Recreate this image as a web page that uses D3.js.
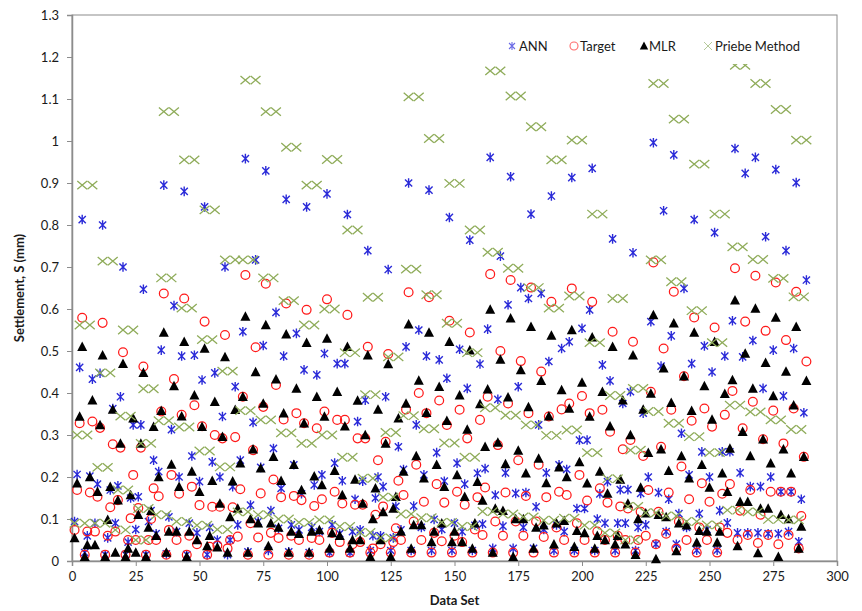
<!DOCTYPE html>
<html>
<head>
<meta charset="utf-8">
<script src="https://cdn.jsdelivr.net/npm/d3@7"></script>
<style>
  body { margin: 0; background: #fff; }
  svg { display: block; font-family: Lato, "Open Sans", "Liberation Sans", sans-serif; }
</style>
</head>
<body>
<svg id="chart" width="862" height="611"></svg>
<script>
// Axis ticks
const dataSetTicks = [0, 25, 50, 75, 100, 125, 150, 175, 200, 225, 250, 275, 300];
const settlementTicks = [0, 0.1, 0.2, 0.3, 0.4, 0.5, 0.6, 0.7, 0.8, 0.9, 1.0, 1.1, 1.2, 1.3];
const settlementTickLabels = ["0", "0.1", "0.2", "0.3", "0.4", "0.5", "0.6", "0.7", "0.8", "0.9", "1", "1.1", "1.2", "1.3"];
const seriesNames = ["ANN", "Target", "MLR", "Priebe Method"];

// Settlement (mm) for data sets 1..288, eight data sets per row
const annValues = [
  0.094, 0.206, 0.461, 0.813, 0.020, 0.060, 0.202, 0.433,
  0.090, 0.183, 0.447, 0.800, 0.015, 0.055, 0.169, 0.363,
  0.090, 0.179, 0.391, 0.700, 0.015, 0.045, 0.150, 0.324,
  0.075, 0.153, 0.324, 0.647, 0.015, 0.094, 0.120, 0.240,
  0.065, 0.213, 0.502, 0.895, 0.017, 0.105, 0.313, 0.608,
  0.070, 0.200, 0.488, 0.880, 0.015, 0.090, 0.250, 0.490,
  0.067, 0.189, 0.431, 0.843, 0.015, 0.080, 0.236, 0.448,
  0.050, 0.200, 0.344, 0.700, 0.015, 0.050, 0.177, 0.415,
  0.086, 0.240, 0.546, 0.958, 0.022, 0.133, 0.330, 0.717,
  0.094, 0.223, 0.513, 0.929, 0.025, 0.120, 0.268, 0.592,
  0.078, 0.173, 0.488, 0.861, 0.022, 0.086, 0.229, 0.542,
  0.074, 0.160, 0.455, 0.843, 0.020, 0.080, 0.181, 0.443,
  0.070, 0.205, 0.494, 0.874, 0.020, 0.086, 0.233, 0.470,
  0.065, 0.191, 0.470, 0.825, 0.020, 0.070, 0.147, 0.332,
  0.074, 0.190, 0.383, 0.739, 0.025, 0.060, 0.150, 0.200,
  0.060, 0.177, 0.391, 0.694, 0.025, 0.055, 0.130, 0.272,
  0.074, 0.218, 0.510, 0.900, 0.025, 0.131, 0.324, 0.550,
  0.080, 0.205, 0.488, 0.883, 0.025, 0.099, 0.258, 0.479,
  0.075, 0.190, 0.435, 0.818, 0.025, 0.090, 0.233, 0.504,
  0.070, 0.183, 0.411, 0.764, 0.025, 0.085, 0.209, 0.469,
  0.088, 0.220, 0.552, 0.961, 0.030, 0.157, 0.385, 0.726,
  0.083, 0.210, 0.610, 0.915, 0.030, 0.161, 0.415, 0.651,
  0.080, 0.163, 0.625, 0.826, 0.030, 0.129, 0.324, 0.637,
  0.075, 0.210, 0.475, 0.869, 0.025, 0.086, 0.229, 0.506,
  0.070, 0.218, 0.522, 0.913, 0.025, 0.125, 0.288, 0.554,
  0.125, 0.288, 0.598, 0.935, 0.025, 0.100, 0.160, 0.467,
  0.090, 0.189, 0.429, 0.767, 0.025, 0.090, 0.170, 0.375,
  0.090, 0.170, 0.403, 0.734, 0.025, 0.080, 0.161, 0.352,
  0.086, 0.200, 0.570, 0.996, 0.040, 0.163, 0.464, 0.834,
  0.070, 0.147, 0.536, 0.967, 0.040, 0.113, 0.304, 0.649,
  0.080, 0.205, 0.470, 0.813, 0.026, 0.113, 0.260, 0.512,
  0.075, 0.200, 0.450, 0.782, 0.026, 0.120, 0.260, 0.488,
  0.091, 0.260, 0.572, 0.982, 0.067, 0.210, 0.486, 0.923,
  0.067, 0.177, 0.525, 0.961, 0.067, 0.177, 0.411, 0.772,
  0.065, 0.200, 0.502, 0.932, 0.065, 0.165, 0.393, 0.739,
  0.070, 0.165, 0.506, 0.901, 0.046, 0.147, 0.353, 0.669
];

const targetValues = [
  0.074, 0.169, 0.328, 0.579, 0.015, 0.070, 0.163, 0.332,
  0.070, 0.153, 0.317, 0.567, 0.015, 0.060, 0.128, 0.278,
  0.070, 0.145, 0.270, 0.497, 0.015, 0.050, 0.102, 0.205,
  0.050, 0.126, 0.270, 0.463, 0.015, 0.050, 0.100, 0.173,
  0.050, 0.154, 0.356, 0.637, 0.015, 0.074, 0.205, 0.433,
  0.050, 0.160, 0.348, 0.625, 0.015, 0.060, 0.177, 0.371,
  0.040, 0.133, 0.321, 0.570, 0.015, 0.034, 0.129, 0.300,
  0.037, 0.129, 0.292, 0.538, 0.030, 0.050, 0.128, 0.295,
  0.058, 0.171, 0.391, 0.681, 0.015, 0.090, 0.264, 0.509,
  0.056, 0.161, 0.367, 0.660, 0.015, 0.067, 0.194, 0.419,
  0.055, 0.152, 0.337, 0.613, 0.015, 0.060, 0.155, 0.352,
  0.050, 0.145, 0.328, 0.598, 0.015, 0.055, 0.131, 0.316,
  0.050, 0.147, 0.356, 0.623, 0.020, 0.067, 0.165, 0.336,
  0.045, 0.137, 0.336, 0.586, 0.020, 0.040, 0.134, 0.292,
  0.045, 0.134, 0.292, 0.510, 0.020, 0.030, 0.110, 0.240,
  0.040, 0.130, 0.284, 0.493, 0.020, 0.045, 0.078, 0.191,
  0.050, 0.157, 0.361, 0.640, 0.020, 0.094, 0.229, 0.400,
  0.050, 0.141, 0.352, 0.628, 0.020, 0.067, 0.183, 0.382,
  0.047, 0.139, 0.324, 0.572, 0.020, 0.060, 0.165, 0.360,
  0.045, 0.134, 0.292, 0.544, 0.020, 0.075, 0.152, 0.336,
  0.062, 0.175, 0.391, 0.683, 0.020, 0.094, 0.276, 0.500,
  0.060, 0.163, 0.375, 0.669, 0.020, 0.094, 0.240, 0.476,
  0.060, 0.155, 0.352, 0.651, 0.020, 0.094, 0.229, 0.451,
  0.057, 0.152, 0.344, 0.617, 0.020, 0.080, 0.165, 0.361,
  0.050, 0.157, 0.375, 0.649, 0.020, 0.090, 0.205, 0.393,
  0.050, 0.144, 0.352, 0.617, 0.020, 0.070, 0.173, 0.360,
  0.050, 0.139, 0.308, 0.546, 0.020, 0.060, 0.130, 0.266,
  0.050, 0.125, 0.288, 0.522, 0.020, 0.050, 0.117, 0.250,
  0.060, 0.169, 0.403, 0.711, 0.040, 0.117, 0.272, 0.506,
  0.065, 0.163, 0.360, 0.641, 0.030, 0.094, 0.225, 0.440,
  0.050, 0.147, 0.334, 0.580, 0.020, 0.080, 0.185, 0.363,
  0.050, 0.141, 0.320, 0.556, 0.020, 0.080, 0.160, 0.348,
  0.067, 0.183, 0.405, 0.697, 0.050, 0.120, 0.316, 0.570,
  0.062, 0.169, 0.379, 0.679, 0.043, 0.110, 0.290, 0.548,
  0.062, 0.165, 0.358, 0.663, 0.040, 0.165, 0.280, 0.526,
  0.062, 0.165, 0.363, 0.641, 0.030, 0.107, 0.248, 0.475
];

const mlrValues = [
  0.055, 0.185, 0.344, 0.510, 0.010, 0.038, 0.200, 0.383,
  0.038, 0.165, 0.324, 0.490, 0.010, 0.098, 0.177, 0.361,
  0.020, 0.145, 0.280, 0.470, 0.010, 0.030, 0.157, 0.340,
  0.020, 0.110, 0.280, 0.448, 0.010, 0.080, 0.120, 0.320,
  0.060, 0.200, 0.358, 0.544, 0.020, 0.070, 0.230, 0.417,
  0.070, 0.177, 0.345, 0.522, 0.010, 0.070, 0.213, 0.395,
  0.050, 0.165, 0.320, 0.506, 0.036, 0.060, 0.191, 0.379,
  0.033, 0.137, 0.296, 0.486, 0.020, 0.105, 0.190, 0.360,
  0.125, 0.233, 0.391, 0.582, 0.020, 0.100, 0.266, 0.450,
  0.090, 0.221, 0.375, 0.562, 0.036, 0.090, 0.248, 0.433,
  0.080, 0.191, 0.352, 0.540, 0.020, 0.070, 0.229, 0.411,
  0.065, 0.169, 0.328, 0.520, 0.020, 0.070, 0.202, 0.391,
  0.074, 0.181, 0.344, 0.530, 0.030, 0.067, 0.215, 0.403,
  0.060, 0.157, 0.321, 0.510, 0.030, 0.050, 0.194, 0.382,
  0.050, 0.137, 0.300, 0.490, 0.010, 0.100, 0.173, 0.361,
  0.050, 0.117, 0.280, 0.469, 0.010, 0.125, 0.153, 0.340,
  0.070, 0.213, 0.375, 0.564, 0.030, 0.086, 0.250, 0.430,
  0.086, 0.197, 0.353, 0.544, 0.045, 0.070, 0.229, 0.415,
  0.090, 0.177, 0.334, 0.522, 0.045, 0.070, 0.205, 0.395,
  0.045, 0.153, 0.313, 0.502, 0.030, 0.090, 0.189, 0.374,
  0.144, 0.272, 0.409, 0.599, 0.020, 0.125, 0.282, 0.480,
  0.120, 0.231, 0.390, 0.578, 0.010, 0.100, 0.263, 0.455,
  0.100, 0.209, 0.367, 0.558, 0.030, 0.080, 0.244, 0.429,
  0.085, 0.186, 0.345, 0.537, 0.040, 0.090, 0.223, 0.407,
  0.096, 0.200, 0.363, 0.550, 0.034, 0.072, 0.236, 0.425,
  0.067, 0.185, 0.344, 0.533, 0.030, 0.060, 0.213, 0.403,
  0.050, 0.161, 0.321, 0.510, 0.040, 0.060, 0.194, 0.383,
  0.040, 0.137, 0.300, 0.490, 0.015, 0.100, 0.175, 0.361,
  0.114, 0.258, 0.399, 0.586, 0.005, 0.110, 0.266, 0.459,
  0.105, 0.215, 0.377, 0.566, 0.024, 0.090, 0.250, 0.440,
  0.085, 0.197, 0.358, 0.544, 0.044, 0.072, 0.229, 0.417,
  0.070, 0.175, 0.337, 0.522, 0.044, 0.070, 0.209, 0.398,
  0.165, 0.268, 0.431, 0.621, 0.036, 0.141, 0.308, 0.494,
  0.141, 0.250, 0.411, 0.601, 0.019, 0.125, 0.290, 0.472,
  0.125, 0.233, 0.393, 0.580, 0.010, 0.110, 0.266, 0.451,
  0.100, 0.209, 0.371, 0.558, 0.030, 0.082, 0.248, 0.429
];

const priebeValues = [
  0.090, 0.300, 0.562, 0.895, 0.090, 0.300, 0.562, 0.895,
  0.090, 0.223, 0.448, 0.714, 0.090, 0.223, 0.448, 0.714,
  0.074, 0.169, 0.345, 0.550, 0.074, 0.169, 0.345, 0.550,
  0.050, 0.125, 0.280, 0.410, 0.050, 0.125, 0.280, 0.410,
  0.110, 0.334, 0.674, 1.070, 0.110, 0.334, 0.674, 1.070,
  0.094, 0.319, 0.602, 0.955, 0.094, 0.319, 0.602, 0.955,
  0.085, 0.262, 0.527, 0.836, 0.085, 0.262, 0.527, 0.836,
  0.075, 0.224, 0.452, 0.717, 0.075, 0.224, 0.452, 0.717,
  0.117, 0.358, 0.717, 1.145, 0.117, 0.358, 0.717, 1.145,
  0.110, 0.336, 0.674, 1.070, 0.110, 0.336, 0.674, 1.070,
  0.100, 0.305, 0.620, 0.985, 0.100, 0.305, 0.620, 0.985,
  0.092, 0.280, 0.562, 0.895, 0.092, 0.280, 0.562, 0.895,
  0.098, 0.300, 0.600, 0.956, 0.098, 0.300, 0.600, 0.956,
  0.082, 0.247, 0.496, 0.788, 0.082, 0.247, 0.496, 0.788,
  0.068, 0.197, 0.396, 0.628, 0.068, 0.197, 0.396, 0.628,
  0.055, 0.152, 0.306, 0.486, 0.055, 0.152, 0.306, 0.486,
  0.112, 0.346, 0.695, 1.105, 0.112, 0.346, 0.695, 1.105,
  0.103, 0.315, 0.634, 1.006, 0.103, 0.315, 0.634, 1.006,
  0.092, 0.281, 0.566, 0.899, 0.092, 0.281, 0.566, 0.899,
  0.082, 0.247, 0.496, 0.788, 0.082, 0.247, 0.496, 0.788,
  0.118, 0.365, 0.735, 1.167, 0.118, 0.365, 0.735, 1.167,
  0.112, 0.347, 0.697, 1.107, 0.112, 0.347, 0.697, 1.107,
  0.105, 0.324, 0.651, 1.034, 0.105, 0.324, 0.651, 1.034,
  0.097, 0.299, 0.602, 0.955, 0.097, 0.299, 0.602, 0.955,
  0.102, 0.312, 0.631, 1.002, 0.102, 0.312, 0.631, 1.002,
  0.085, 0.258, 0.520, 0.826, 0.085, 0.258, 0.520, 0.826,
  0.067, 0.196, 0.394, 0.625, 0.067, 0.196, 0.394, 0.625,
  0.050, 0.130, 0.264, 0.411, 0.050, 0.130, 0.264, 0.411,
  0.115, 0.356, 0.717, 1.137, 0.115, 0.356, 0.717, 1.137,
  0.107, 0.328, 0.665, 1.052, 0.107, 0.328, 0.665, 1.052,
  0.094, 0.296, 0.596, 0.945, 0.094, 0.296, 0.596, 0.945,
  0.086, 0.258, 0.520, 0.826, 0.086, 0.258, 0.520, 0.826,
  0.121, 0.371, 0.748, 1.180, 0.121, 0.371, 0.748, 1.180,
  0.117, 0.355, 0.718, 1.137, 0.117, 0.355, 0.718, 1.137,
  0.099, 0.336, 0.673, 1.075, 0.099, 0.336, 0.673, 1.075,
  0.098, 0.313, 0.629, 1.002, 0.098, 0.313, 0.629, 1.002
];

const svg = d3.select("#chart");
const plot = { left: 72, right: 837, top: 15, bottom: 561 };

const x = d3.scaleLinear().domain([0, 300]).range([plot.left, plot.right]);
const y = d3.scaleLinear().domain([0, 1.3]).range([plot.bottom, plot.top]);

const axisColor = "#8c8c8c";

// Plot-area frame
svg.append("rect")
  .attr("x", plot.left).attr("y", plot.top)
  .attr("width", plot.right - plot.left).attr("height", plot.bottom - plot.top)
  .attr("fill", "none").attr("stroke", axisColor).attr("stroke-width", 1);

// Axes
const yAxis = svg.append("g")
  .attr("transform", `translate(${plot.left},0)`)
  .call(d3.axisLeft(y).tickValues(settlementTicks)
    .tickFormat((d, i) => settlementTickLabels[i]).tickSize(5).tickPadding(8));
const xAxis = svg.append("g")
  .attr("transform", `translate(0,${plot.bottom})`)
  .call(d3.axisBottom(x).tickValues(dataSetTicks).tickSize(5).tickPadding(6));

[xAxis, yAxis].forEach(g => {
  g.select(".domain").attr("stroke", axisColor).attr("stroke-width", 1.5);
  g.selectAll(".tick line").attr("stroke", axisColor);
  g.selectAll(".tick text").attr("fill", "#1a1a1a")
    .style("font-size", "13px").style("font-family", "Lato, 'Open Sans', sans-serif");
});

// Axis titles
svg.append("text")
  .attr("x", (plot.left + plot.right) / 2).attr("y", 605)
  .attr("text-anchor", "middle")
  .style("font-size", "13px").style("font-weight", "bold").attr("fill", "#1a1a1a")
  .text("Data Set");
svg.append("text")
  .attr("transform", `translate(24,${(plot.top + plot.bottom) / 2}) rotate(-90)`)
  .attr("text-anchor", "middle")
  .style("font-size", "13px").style("font-weight", "bold").attr("fill", "#1a1a1a")
  .text("Settlement, S (mm)");

// Marker shapes
const colors = { ann: "#2a2ad8", target: "#ff1a1a", mlr: "#000000", priebe: "#8fac5a" };

function starPath(r) {
  const d = r * 0.75;
  return `M0,${-r}L0,${r}M${-d},${-d}L${d},${d}M${-d},${d}L${d},${-d}`;
}
function crossPath(w, h) {
  return `M${-w},${-h}L${w},${h}M${-w},${h}L${w},${-h}`;
}
function trianglePath(w, h) {
  return `M0,${-h * 0.55}L${w},${h * 0.45}L${-w},${h * 0.45}Z`;
}

function drawSeries(values, cls, draw) {
  const g = svg.append("g").attr("class", cls);
  values.forEach((v, i) => draw(g, x(i + 1), y(v)));
}

drawSeries(annValues, "ann", (g, px, py) => {
  g.append("path").attr("d", starPath(4.8))
    .attr("transform", `translate(${px},${py})`)
    .attr("stroke", colors.ann).attr("stroke-width", 1.4).attr("fill", "none");
});
drawSeries(targetValues, "target", (g, px, py) => {
  g.append("circle").attr("cx", px).attr("cy", py).attr("r", 4.4)
    .attr("stroke", colors.target).attr("stroke-width", 1.25).attr("fill", "none");
});
drawSeries(mlrValues, "mlr", (g, px, py) => {
  g.append("path").attr("d", trianglePath(5, 9.5))
    .attr("transform", `translate(${px},${py})`)
    .attr("fill", colors.mlr);
});
drawSeries(priebeValues, "priebe", (g, px, py) => {
  g.append("path").attr("d", crossPath(4.9, 4.2))
    .attr("transform", `translate(${px},${py})`)
    .attr("stroke", colors.priebe).attr("stroke-width", 1.3).attr("fill", "none");
});

// Legend
const legend = svg.append("g");
legend.append("rect").attr("x", 500).attr("y", 31).attr("width", 316).attr("height", 33).attr("fill", "#fff");
const legendItems = [
  { name: seriesNames[0], mx: 512, tx: 519 },
  { name: seriesNames[1], mx: 574, tx: 580 },
  { name: seriesNames[2], mx: 644, tx: 649 },
  { name: seriesNames[3], mx: 708, tx: 715 }
];
const ly = 46;
legend.append("path").attr("d", starPath(4)).attr("transform", `translate(${legendItems[0].mx},${ly})`)
  .attr("stroke", "#6b6be6").attr("stroke-width", 1.1).attr("fill", "none");
legend.append("circle").attr("cx", legendItems[1].mx).attr("cy", ly).attr("r", 4)
  .attr("stroke", "#ff6b6b").attr("stroke-width", 1.1).attr("fill", "none");
legend.append("path").attr("d", trianglePath(4.2, 8)).attr("transform", `translate(${legendItems[2].mx},${ly})`)
  .attr("fill", "#000");
legend.append("path").attr("d", crossPath(4, 4)).attr("transform", `translate(${legendItems[3].mx},${ly})`)
  .attr("stroke", "#b5c99a").attr("stroke-width", 1).attr("fill", "none");
legendItems.forEach(it => {
  legend.append("text").attr("x", it.tx).attr("y", ly + 4.5)
    .style("font-size", "13px").attr("fill", "#1a1a1a").text(it.name);
});
</script>
</body>
</html>
